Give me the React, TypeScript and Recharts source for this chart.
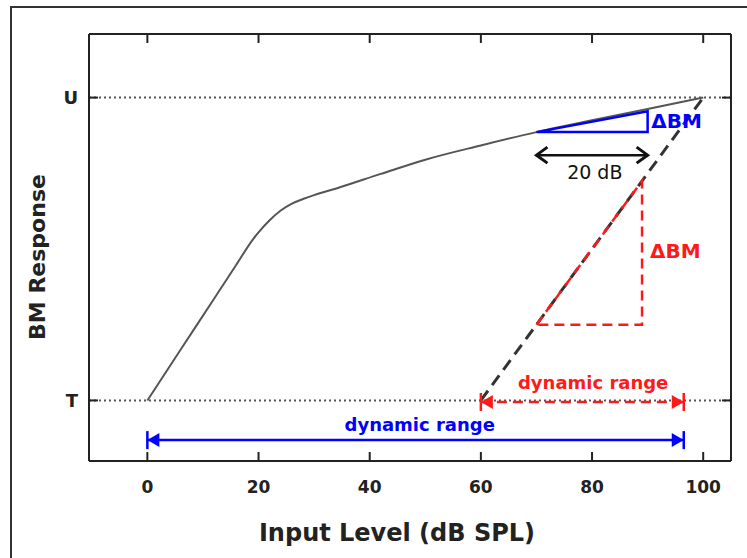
import { ComposedChart, Line, XAxis, YAxis, ReferenceLine, ReferenceDot } from 'recharts';

const FONT = '"DejaVu Sans", "Liberation Sans", sans-serif';

// BM input/output function (input level dB SPL -> normalised response, T=0, U=1)
const curveLevel = [0, 6, 12, 16, 19, 20, 22, 24, 26, 28, 30, 34, 42, 50, 60, 70, 80, 90, 100];
const curveResp = [0, 0.168, 0.336, 0.448, 0.532, 0.555, 0.595, 0.627, 0.65, 0.665, 0.678, 0.7, 0.748, 0.795, 0.842, 0.886, 0.925, 0.962, 1.0];

// linear (passive) response
const linearLevel = [60, 100];
const linearResp = [0, 1];

// slope triangles
const blueTriLevel = [70, 90, 90, 70];
const blueTriResp = [0.886, 0.955, 0.886, 0.886];
const redTriLevel = [70, 89, 89, 70];
const redTriResp = [0.25, 0.725, 0.25, 0.25];

// 20 dB arrow
const dbArrowLevel = [70, 90];
const dbArrowResp = [0.81, 0.81];

// dynamic range arrows
const redRangeLevel = [60, 96.5];
const redRangeResp = [-0.005, -0.005];
const blueRangeLevel = [0, 96.5];
const blueRangeResp = [-0.131, -0.131];

const xTicks = [0, 20, 40, 60, 80, 100];
const yTicks = [0, 1];
const yTickLabels = ['T', 'U'];

const pts = (xs: number[], ys: number[]) => xs.map((x, i) => ({ x, y: ys[i] }));

const AXIS = '#222';

function rangeEnd(color: string) {
  return (p: any) => {
    const { cx, cy, index } = p;
    const d = index === 0 ? 1 : -1;
    return (
      <g key={`end-${color}-${index}`}>
        <path d={`M${cx},${cy} L${cx + d * 12},${cy - 7} L${cx + d * 12},${cy + 7} Z`} fill={color} />
        <line x1={cx} x2={cx} y1={cy - 9} y2={cy + 9} stroke={color} strokeWidth={2.5} />
      </g>
    );
  };
}

const chevron = (p: any) => {
  const { cx, cy, index } = p;
  const d = index === 0 ? 1 : -1;
  return (
    <polyline
      key={`chev-${index}`}
      points={`${cx + d * 11},${cy - 8} ${cx},${cy} ${cx + d * 11},${cy + 8}`}
      fill="none"
      stroke="#111"
      strokeWidth={3}
    />
  );
};

const BottomTick = ({ x, y, payload }: any) => (
  <g>
    <line x1={x} x2={x} y1={y} y2={y - 9} stroke={AXIS} strokeWidth={2} />
    <text x={x} y={y + 32} textAnchor="middle" fontFamily={FONT} fontWeight="bold" fontSize={17} fill="#222">
      {payload.value}
    </text>
  </g>
);

const TopTick = ({ x, y }: any) => <line x1={x} x2={x} y1={y} y2={y + 9} stroke={AXIS} strokeWidth={2} />;

const LeftTick = ({ x, y, payload }: any) => (
  <g>
    <line x1={x} x2={x + 9} y1={y} y2={y} stroke={AXIS} strokeWidth={2} />
    <text x={x - 11} y={y} dy="0.36em" textAnchor="end" fontFamily={FONT} fontWeight="bold" fontSize={18} fill="#222">
      {yTickLabels[yTicks.indexOf(payload.value)]}
    </text>
  </g>
);

const RightTick = ({ x, y }: any) => <line x1={x} x2={x - 9} y1={y} y2={y} stroke={AXIS} strokeWidth={2} />;

export default function App() {
  return (
    <div style={{ position: 'absolute', left: 0, top: 0, width: 747, height: 558, overflow: 'hidden', background: '#fff' }}>
      <div
        style={{
          position: 'absolute',
          left: 10,
          top: 6,
          width: 800,
          height: 600,
          border: '2px solid #333',
        }}
      />
      <div style={{ position: 'absolute', left: 0, top: 0 }}>
        <ComposedChart width={747} height={558} margin={{ top: 33, right: 15, bottom: 7, left: 10 }}>
          <XAxis
            dataKey="x"
            type="number"
            domain={[-10.5, 105]}
            allowDataOverflow
            ticks={xTicks}
            tickSize={0}
            tickMargin={0}
            height={90}
            axisLine={{ stroke: AXIS, strokeWidth: 2 }}
            tickLine={false}
            tick={<BottomTick />}
            label={{
              content: () => (
                <text x={397} y={541} textAnchor="middle" fontFamily={FONT} fontWeight="bold" fontSize={24} fill="#222">
                  Input Level (dB SPL)
                </text>
              ),
            }}
          />
          <XAxis
            xAxisId="top"
            orientation="top"
            dataKey="x"
            type="number"
            domain={[-10.5, 105]}
            allowDataOverflow
            ticks={xTicks}
            tickSize={0}
            tickMargin={0}
            height={1}
            axisLine={{ stroke: AXIS, strokeWidth: 2 }}
            tickLine={false}
            tick={<TopTick />}
          />
          <YAxis
            type="number"
            domain={[-0.2, 1.21]}
            allowDataOverflow
            ticks={yTicks}
            tickSize={0}
            tickMargin={0}
            width={79}
            axisLine={{ stroke: AXIS, strokeWidth: 2 }}
            tickLine={false}
            tick={<LeftTick />}
            label={{
              content: () => (
                <text
                  transform="translate(37,257) rotate(-90)"
                  dy="0.36em"
                  textAnchor="middle"
                  fontFamily={FONT}
                  fontWeight="bold"
                  fontSize={22}
                  fill="#222"
                >
                  BM Response
                </text>
              ),
            }}
          />
          <YAxis
            yAxisId="right"
            orientation="right"
            type="number"
            domain={[-0.2, 1.21]}
            allowDataOverflow
            ticks={yTicks}
            tickSize={0}
            tickMargin={0}
            width={1}
            axisLine={{ stroke: AXIS, strokeWidth: 2 }}
            tickLine={false}
            tick={<RightTick />}
          />

          <ReferenceLine y={1} stroke="#555" strokeWidth={2} strokeDasharray="2 3" />
          <ReferenceLine y={0} stroke="#555" strokeWidth={2} strokeDasharray="2 3" />

          <Line
            data={pts(curveLevel, curveResp)}
            dataKey="y"
            type="monotone"
            stroke="#555"
            strokeWidth={2}
            dot={false}
            activeDot={false}
            isAnimationActive={false}
          />
          <Line
            data={pts(linearLevel, linearResp)}
            dataKey="y"
            type="linear"
            stroke="#333"
            strokeWidth={3}
            strokeDasharray="12 7"
            dot={false}
            activeDot={false}
            isAnimationActive={false}
          />
          <Line
            data={pts(blueTriLevel, blueTriResp)}
            dataKey="y"
            type="linear"
            stroke="#0000ff"
            strokeWidth={2.5}
            dot={false}
            activeDot={false}
            isAnimationActive={false}
          />
          <Line
            data={pts(redTriLevel, redTriResp)}
            dataKey="y"
            type="linear"
            stroke="#ff1a1a"
            strokeWidth={2.5}
            strokeDasharray="10 6"
            dot={false}
            activeDot={false}
            isAnimationActive={false}
          />
          <Line
            data={pts(dbArrowLevel, dbArrowResp)}
            dataKey="y"
            type="linear"
            stroke="#111"
            strokeWidth={2.5}
            dot={chevron}
            activeDot={false}
            isAnimationActive={false}
          />
          <Line
            data={pts(redRangeLevel, redRangeResp)}
            dataKey="y"
            type="linear"
            stroke="#ff1a1a"
            strokeWidth={2.5}
            strokeDasharray="10 6"
            dot={rangeEnd('#ff1a1a')}
            activeDot={false}
            isAnimationActive={false}
          />
          <Line
            data={pts(blueRangeLevel, blueRangeResp)}
            dataKey="y"
            type="linear"
            stroke="#0000ff"
            strokeWidth={2.5}
            dot={rangeEnd('#0000ff')}
            activeDot={false}
            isAnimationActive={false}
          />

          <ReferenceDot
            x={95.2}
            y={0.923}
            r={0}
            fill="none"
            stroke="none"
            label={{ value: 'ΔBM', position: 'center', fill: '#0000ff', fontSize: 20, fontWeight: 'bold', fontFamily: FONT }}
          />
          <ReferenceDot
            x={95}
            y={0.493}
            r={0}
            fill="none"
            stroke="none"
            label={{ value: 'ΔBM', position: 'center', fill: '#ff1a1a', fontSize: 20, fontWeight: 'bold', fontFamily: FONT }}
          />
          <ReferenceDot
            x={80.5}
            y={0.754}
            r={0}
            fill="none"
            stroke="none"
            label={{ value: '20 dB', position: 'center', fill: '#111', fontSize: 19, fontFamily: FONT }}
          />
          <ReferenceDot
            x={80.2}
            y={0.059}
            r={0}
            fill="none"
            stroke="none"
            label={{ value: 'dynamic range', position: 'center', fill: '#ff1a1a', fontSize: 18, fontWeight: 'bold', fontFamily: FONT }}
          />
          <ReferenceDot
            x={49}
            y={-0.08}
            r={0}
            fill="none"
            stroke="none"
            label={{ value: 'dynamic range', position: 'center', fill: '#0000ff', fontSize: 18, fontWeight: 'bold', fontFamily: FONT }}
          />
        </ComposedChart>
      </div>
    </div>
  );
}
